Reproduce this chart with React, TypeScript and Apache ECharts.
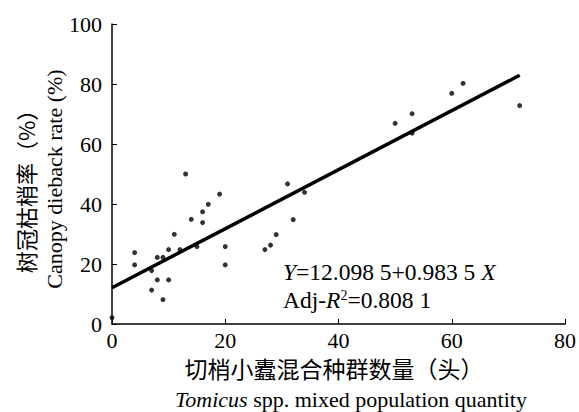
import React, { useEffect, useRef } from "react";
import * as echarts from "echarts";

const pointsX = [13, 19, 17, 16, 14, 16, 11, 4, 4, 10, 12, 15, 8, 9, 7, 8, 10, 7, 9, 20, 20, 0, 31, 34, 32, 29, 28, 27, 50, 53, 53, 60, 62, 72];
const pointsY = [50, 43.3, 39.9, 37.4, 34.9, 33.8, 29.9, 23.8, 19.7, 24.8, 24.8, 25.8, 22.2, 22.2, 17.8, 14.7, 14.7, 11.3, 8.1, 25.8, 19.7, 2.1, 46.7, 43.9, 34.8, 29.8, 26.3, 24.8, 66.9, 70.1, 63.6, 76.9, 80.2, 72.8];
const fitX = [0, 72];
const intercept = 12.0985;
const slope = 0.9835;
const xTicks = [0, 80, 20];
const yTicks = [0, 100, 20];

const SERIF = "'Liberation Serif', 'Times New Roman', 'Noto Sans CJK SC', serif";
const CJK = "'Noto Sans CJK SC', 'Liberation Serif', serif";

export default function App() {
  const ref = useRef<HTMLDivElement>(null);
  useEffect(() => {
    const chart = echarts.init(ref.current!, null, { renderer: "svg" });
    const scatter = pointsX.map((x, i) => [x, pointsY[i]]);
    const fit = fitX.map((x) => [x, intercept + slope * x]);
    chart.setOption({
      animation: false,
      backgroundColor: "#fff",
      grid: { left: 112, right: 13, top: 24, bottom: 88, containLabel: false },
      xAxis: {
        type: "value",
        min: xTicks[0],
        max: xTicks[1],
        interval: xTicks[2],
        axisLine: { lineStyle: { color: "#000", width: 1.5 } },
        axisTick: { inside: true, length: 5, lineStyle: { color: "#000", width: 1 } },
        axisLabel: { color: "#000", fontFamily: SERIF, fontSize: 22, lineHeight: 20, margin: 6 },
        splitLine: { show: false },
      },
      yAxis: {
        type: "value",
        min: yTicks[0],
        max: yTicks[1],
        interval: yTicks[2],
        axisLine: { show: true, lineStyle: { color: "#000", width: 1.5 } },
        axisTick: { show: true, inside: true, length: 5, lineStyle: { color: "#000", width: 1 } },
        axisLabel: { color: "#000", fontFamily: SERIF, fontSize: 22, margin: 10 },
        splitLine: { show: false },
      },
      series: [
        {
          type: "scatter",
          data: scatter,
          symbolSize: 5,
          itemStyle: { color: "#000" },
          z: 3,
        },
        {
          type: "line",
          data: fit,
          showSymbol: false,
          symbol: "none",
          lineStyle: { color: "#000", width: 3.5 },
          z: 2,
        },
      ],
      graphic: [
        {
          type: "text",
          x: 25,
          y: 186,
          rotation: Math.PI / 2,
          style: {
            text: "树冠枯梢率（%）",
            font: `22px ${CJK}`,
            fill: "#000",
            textAlign: "center",
            textVerticalAlign: "middle",
          },
        },
        {
          type: "text",
          x: 54,
          y: 179,
          rotation: Math.PI / 2,
          style: {
            text: "Canopy dieback rate (%)",
            font: `22px ${SERIF}`,
            fill: "#000",
            textAlign: "center",
            textVerticalAlign: "middle",
          },
        },
        {
          type: "text",
          x: 334,
          y: 368,
          style: {
            text: "切梢小蠹混合种群数量（头）",
            font: `23px ${CJK}`,
            lineHeight: 22,
            fill: "#000",
            textAlign: "center",
            textVerticalAlign: "middle",
          },
        },
        {
          type: "text",
          x: 351,
          y: 399,
          style: {
            text: "{i|Tomicus} spp. mixed population quantity",
            font: `22px ${SERIF}`,
            fill: "#000",
            textAlign: "center",
            textVerticalAlign: "middle",
            rich: {
              i: { fontStyle: "italic", fontFamily: SERIF, fontSize: 22, fill: "#000" },
            },
          },
        },
        {
          type: "text",
          x: 283,
          y: 272,
          style: {
            text: "{i|Y}=12.098 5+0.983 5 {i|X}",
            font: `23.5px ${SERIF}`,
            fill: "#000",
            textAlign: "left",
            textVerticalAlign: "middle",
            rich: {
              i: { fontStyle: "italic", fontFamily: SERIF, fontSize: 23.5, fill: "#000" },
            },
          },
        },
        {
          type: "text",
          x: 283,
          y: 300,
          style: {
            text: "Adj-{i|R}{s|2}=0.808 1",
            font: `23.5px ${SERIF}`,
            fill: "#000",
            textAlign: "left",
            textVerticalAlign: "middle",
            rich: {
              i: { fontStyle: "italic", fontFamily: SERIF, fontSize: 23.5, fill: "#000" },
              s: { fontFamily: SERIF, fontSize: 14, fill: "#000", verticalAlign: "top", padding: [0, 0, 9, 0] },
            },
          },
        },
      ],
    });
    return () => chart.dispose();
  }, []);
  return <div ref={ref} style={{ width: 579, height: 412, position: "absolute", left: 0, top: 0 }} />;
}
